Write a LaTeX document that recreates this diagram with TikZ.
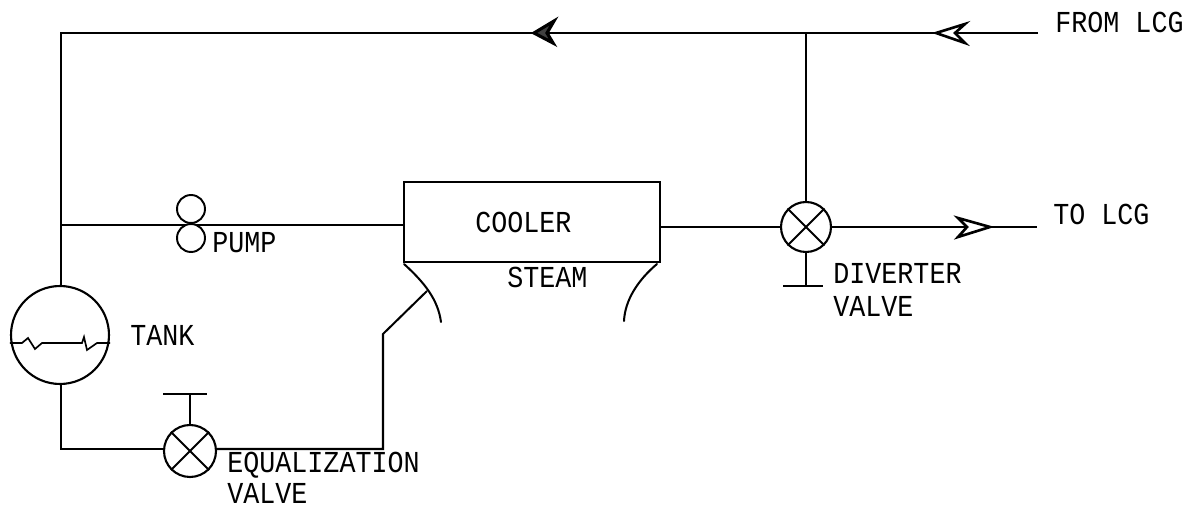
\documentclass[tikz,border=0pt]{standalone}
\usepackage{fontspec}
\setmonofont{Liberation Mono}
\newcommand{\tallcaps}[1]{\scalebox{1}[1.14]{#1}}
\begin{document}
\begin{tikzpicture}[x=0.02cm,y=-0.02cm,
  pipe/.style={line width=1.15pt,line join=miter},
  thin pipe/.style={line width=0.95pt},
  lbl/.style={anchor=base west,inner sep=0pt,font=\ttfamily\fontsize{15.2}{18}\selectfont,text=black},
  valvebody/.style={circle,draw,line width=1.2pt,minimum size=1cm,inner sep=0pt,fill=white},
  pumpbody/.style={circle,draw,line width=1.1pt,minimum size=0.56cm,inner sep=0pt,fill=white},
  tankbody/.style={circle,draw,line width=1.2pt,minimum size=1.96cm,inner sep=0pt},
  coolerbody/.style={rectangle,draw,line width=1.4pt,minimum width=5.12cm,minimum height=1.6cm,inner sep=0pt},
  openhead/.style={draw,line width=1.5pt,fill=white,line join=miter},
  darkhead/.style={draw,line width=1.8pt,fill=black!75,line join=miter}]
\useasboundingbox (0,0) rectangle (1197,509);
% named nodes
\node[tankbody] (tank) at (60,335) {};
\node[coolerbody] (cooler) at (532,222) {};
\node[valvebody] (div) at (806,227) {};
\node[valvebody,minimum size=1.04cm] (eq) at (190,451) {};
\coordinate (corner) at (61,33);
\coordinate (fromend) at (1038,33);
\coordinate (tee) at (806,33);
\coordinate (toend) at (1037,227);
\coordinate (pumptee) at (61,225);
\coordinate (pumpin) at (404,225);
\coordinate (eqcorner) at (61,449);
\coordinate (lowcorner) at (383,449);
\coordinate (kink) at (383,334);
\coordinate (steamin) at (427,291);
\coordinate (eqstem) at (190,394);
\coordinate (eqbarL) at (163,394);
\coordinate (eqbarR) at (207,394);
\coordinate (divstem) at (806,286);
\coordinate (divbarL) at (783,286);
\coordinate (divbarR) at (823,286);
% pipes
\draw[pipe] (fromend) -- (corner) -- (tank.north -| corner);
\draw[pipe] (tee) -- (div.north);
\draw[pipe] (pumptee) -- (pumpin);
\draw[pipe] (div.east) -- (toend);
\draw[pipe] (cooler.east |- div.west) -- (div.west);
\draw[pipe] (tank.south -| eqcorner) -- (eqcorner) -- (eq.west |- eqcorner);
\draw[pipe] (eq.east |- lowcorner) -- (lowcorner) -- (kink) -- (steamin);
\draw[thin pipe] (eq.north) -- (eqstem);
\draw[pipe] (eqbarL) -- (eqbarR);
\draw[thin pipe] (div.south) -- (divstem);
\draw[pipe] (divbarL) -- (divbarR);
% pump
\node[pumpbody] (pumpA) at (191,209) {};
\node[pumpbody] (pumpB) at (191,238) {};
% valve crosses
\draw[pipe] (div.45) -- (div.225) (div.135) -- (div.315);
\draw[pipe] (eq.45) -- (eq.225) (eq.135) -- (eq.315);
% steam hood arcs
\draw[pipe,line cap=round] (404,264) .. controls (425,283) and (438,300) .. (441,322);
\draw[pipe,line cap=round] (657,264) .. controls (638,280) and (625,300) .. (624,321);
% liquid level
\draw[line width=0.95pt] (tank.west |- 0,343) -- (22,343) -- (28,338) -- (35,349) -- (42,343) -- (82,343) -- (84,337) -- (87,350) -- (97,343) -- (tank.east |- 0,343);
% arrowheads
\draw[darkhead] (534,33) -- (554,21) -- (547,33) -- (553,43) -- cycle;
\draw[openhead] (936,33) -- (965,24) -- (955,33) -- (965,43) -- cycle;
\draw[openhead] (990,227) -- (958,218) -- (967,227) -- (958,237) -- cycle;
% labels
\node[lbl] (lfrom) at (1055,33) {\tallcaps{FROM LCG}};
\node[lbl] (lto) at (1053,225) {\tallcaps{TO LCG}};
\node[lbl] (lcool) at (475,233) {\tallcaps{COOLER}};
\node[lbl] (lsteam) at (507,288) {\tallcaps{STEAM}};
\node[lbl] (lpump) at (212,253) {\tallcaps{PUMP}};
\node[lbl] (ltank) at (130,346) {\tallcaps{TANK}};
\node[lbl] (leq) at (227,473) {\tallcaps{EQUALIZATION}};
\node[lbl] (leqv) at (227,504) {\tallcaps{VALVE}};
\node[lbl] (ldiv) at (833,284) {\tallcaps{DIVERTER}};
\node[lbl] (ldivv) at (833,317) {\tallcaps{VALVE}};
\end{tikzpicture}
\end{document}
